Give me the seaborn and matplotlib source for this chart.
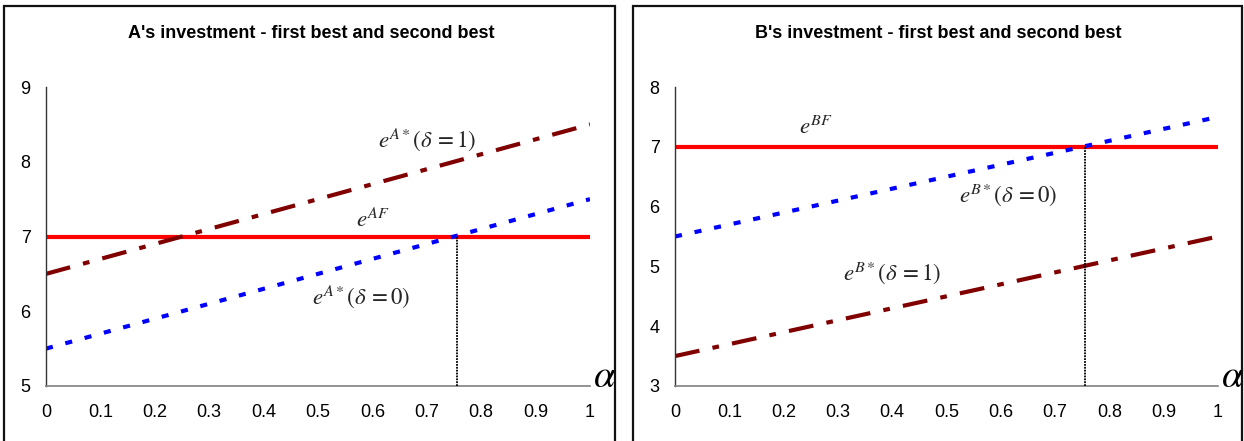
import matplotlib.pyplot as plt
import matplotlib.patches as patches
import numpy as np
import pandas as pd
import seaborn as sns

# data
alpha = [0, 0.1, 0.2, 0.3, 0.4, 0.5, 0.6, 0.7, 0.8, 0.9, 1.0]

# A's investment
a_first_best = [7.0] * 11
a_delta0 = [5.5, 5.7, 5.9, 6.1, 6.3, 6.5, 6.7, 6.9, 7.1, 7.3, 7.5]
a_delta1 = [6.5, 6.7, 6.9, 7.1, 7.3, 7.5, 7.7, 7.9, 8.1, 8.3, 8.5]
a_cross = 0.755

# B's investment
b_first_best = [7.0] * 11
b_delta0 = [5.5, 5.7, 5.9, 6.1, 6.3, 6.5, 6.7, 6.9, 7.1, 7.3, 7.5]
b_delta1 = [3.5, 3.7, 3.9, 4.1, 4.3, 4.5, 4.7, 4.9, 5.1, 5.3, 5.5]
b_cross = 0.755

x_ticks = [0, 0.1, 0.2, 0.3, 0.4, 0.5, 0.6, 0.7, 0.8, 0.9, 1]
x_ticklabels = ['0', '0.1', '0.2', '0.3', '0.4', '0.5', '0.6', '0.7',
                '0.8', '0.9', '1']

sns.set_style('white')
plt.rcParams['font.family'] = ['Liberation Sans', 'DejaVu Sans']
plt.rcParams['mathtext.fontset'] = 'stix'

DARKRED = '#800000'
BLUE = '#0000ff'
RED = '#ff0000'
dashdot = (0, (6, 3.2, 1.6, 3.2))
dotted = (0, (1.7, 3.1))

fig = plt.figure(figsize=(12.44, 4.41), dpi=100)

# panel frames (Excel-like chart borders)
for x0, x1 in [(4, 615), (633, 1242)]:
    fig.patches.append(patches.Rectangle(
        (x0 / 1244, -0.05), (x1 - x0) / 1244, 1.05 - 5.5 / 441,
        transform=fig.transFigure, fill=False, edgecolor='#111111',
        lw=1.6, zorder=0))

ax1 = fig.add_axes([46 / 1244, 55 / 441, 544 / 1244, 299 / 441])
ax2 = fig.add_axes([675 / 1244, 55 / 441, 543 / 1244, 299 / 441])


def draw_panel(ax, first_best, delta0, delta1, cross, ylim, title,
               frame_center, labels):
    df = pd.DataFrame({'alpha': alpha, 'fb': first_best,
                       'd0': delta0, 'd1': delta1})
    sns.lineplot(data=df, x='alpha', y='fb', ax=ax, color=RED, lw=3,
                 solid_capstyle='butt')
    sns.lineplot(data=df, x='alpha', y='d0', ax=ax, color=BLUE, lw=3,
                 linestyle=dotted, dash_capstyle='butt')
    sns.lineplot(data=df, x='alpha', y='d1', ax=ax, color=DARKRED, lw=3,
                 linestyle=dashdot, dash_capstyle='butt')
    ax.vlines(cross, ylim[0], first_best[0], colors='black', lw=1.3,
              linestyles=(0, (1, 0.6)), zorder=5)

    ax.set_xlim(0, 1)
    ax.set_ylim(*ylim)
    ax.set_xticks(x_ticks)
    ax.set_xticklabels(x_ticklabels)
    ax.set_yticks(np.arange(ylim[0], ylim[1] + 1))
    ax.set_xlabel('')
    ax.set_ylabel('')
    for s in ['top', 'right']:
        ax.spines[s].set_visible(False)
    ax.spines['left'].set_color('#333333')
    ax.spines['bottom'].set_color('#808080')
    ax.spines['left'].set_linewidth(1.0)
    ax.spines['bottom'].set_linewidth(1.2)
    ax.tick_params(axis='y', direction='out', length=5, width=1,
                   color='#333333', pad=6, labelsize=13, labelcolor='black')
    ax.tick_params(axis='x', direction='out', length=5, width=1,
                   color='#808080', pad=8, labelsize=13, labelcolor='black')
    ax.set_facecolor('none')

    for txt, x, y in labels:
        ax.text(x, y, txt, fontsize=16.5, ha='center', va='center')

    ax.text(1.0 + 3 / 544, ylim[0] + 0.03 * (ylim[1] - ylim[0]),
            r'$\alpha$', fontsize=28, ha='left', va='center',
            color='black',
            bbox=dict(facecolor='white', edgecolor='none', pad=0))
    fig.text(frame_center / 1244, 1 - 33 / 441, title, ha='center',
             va='center', fontsize=13, fontweight='bold', color='black')


draw_panel(ax1, a_first_best, a_delta0, a_delta1, a_cross, (5, 9),
           "A's investment - first best and second best", 311,
           [(r'$e^{A*}\left(\delta\,=1\right)$', 0.70, 8.29),
            (r'$e^{AF}$', 0.60, 7.22),
            (r'$e^{A*}\left(\delta\,=0\right)$', 0.58, 6.19)])

draw_panel(ax2, b_first_best, b_delta0, b_delta1, b_cross, (3, 8),
           "B's investment - first best and second best", 938,
           [(r'$e^{BF}$', 0.26, 7.32),
            (r'$e^{B*}\left(\delta\,=0\right)$', 0.613, 6.2),
            (r'$e^{B*}\left(\delta\,=1\right)$', 0.40, 4.9)])

fig.savefig('out.png', dpi=100)
